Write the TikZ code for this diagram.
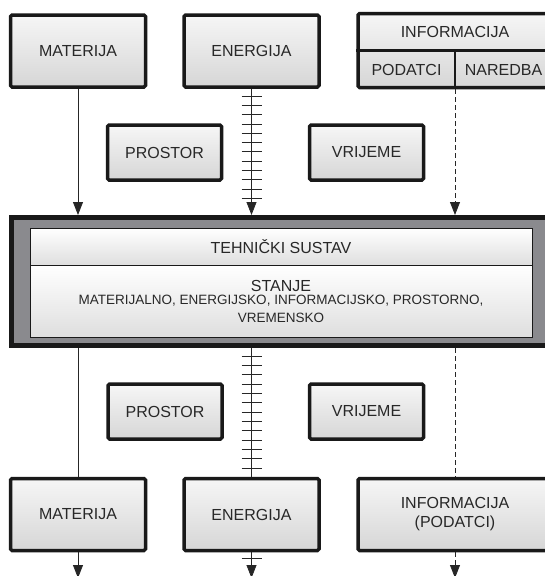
\documentclass[tikz,border=0pt]{standalone}
\usepackage{fontspec}
\setmainfont{Liberation Sans}
\usetikzlibrary{arrows.meta,positioning,decorations.markings}

\definecolor{blokgore}{RGB}{246,246,246}
\definecolor{blokdolje}{RGB}{214,214,214}
\definecolor{sustavsiva}{RGB}{138,138,142}
\definecolor{tekst}{RGB}{40,40,40}

\newcommand{\crtica}{\draw[-,solid,line width=0.8pt] (0,-10pt) -- (0,10pt);}

\begin{document}
\begin{tikzpicture}[x=1pt,y=-1pt,>={Triangle[width=10pt,length=13pt]},
  natpis/.style={text=tekst,font=\fontsize{16}{19}\selectfont,align=center},
  blok/.style={natpis,draw=black!90,line width=3.5pt,rounded corners=1.5pt,
    top color=blokgore,bottom color=blokdolje,minimum width=135pt,minimum height=72pt},
  malo/.style={blok,minimum width=114pt,minimum height=55pt},
  unutra/.style={natpis,draw=black!90,line width=1pt,top color=white,bottom color=blokdolje!80,
    minimum width=502pt,inner sep=0pt,outer sep=0pt},
  tok/.style={postaction={decorate,decoration={markings,mark=#1 with {\crtica}}}},
  veza/.style={line width=0.8pt,black!85},
  naredbe/.style={veza,dash pattern=on 5pt off 3pt}]
\useasboundingbox (0,0) rectangle (545,576);
\clip (0,0) rectangle (545,576);

% ulazi
\node[blok] (mat1) at (78,51) {MATERIJA};
\node[blok] (en1) at (251.5,51) {ENERGIJA};
\node[blok,minimum width=194pt,minimum height=74pt] (inf1) at (455,50.5) {};
\draw[line width=2.5pt,black!90] (inf1.west) -- (inf1.east);
\draw[line width=2.5pt,black!90] (inf1.center) -- (inf1.south);
\node[natpis] (infnaslov) at (455,31.5) {INFORMACIJA};
\node[natpis] (podatci) at (406.5,69.5) {PODATCI};
\node[natpis] (naredba) at (503.5,69.5) {NAREDBA};

\node[malo] (pro1) at (164.5,152.5) {PROSTOR};
\node[malo] (vri1) at (366.5,152.5) {VRIJEME};

% tehnicki sustav
\node[draw=black!90,line width=5pt,fill=sustavsiva,minimum width=541pt,minimum height=128pt] (sys) at (282,281.5) {};
\node[unutra,minimum height=37.5pt] (sysvrh) at (281,246.75) {TEHNIČKI SUSTAV};
\node[unutra,minimum height=71.5pt,below=0pt of sysvrh,font=\fontsize{13.5}{17.5}\selectfont] (sysdno)
  {{\fontsize{16}{19}\selectfont STANJE}\\[-4pt]
   MATERIJALNO, ENERGIJSKO, INFORMACIJSKO, PROSTORNO,\\ VREMENSKO};

% izlazi
\node[malo] (pro2) at (165,411.5) {PROSTOR};
\node[malo] (vri2) at (366.5,411.5) {VRIJEME};

\node[blok] (mat2) at (78,514.5) {MATERIJA};
\node[blok] (en2) at (251.5,514.5) {ENERGIJA};
\node[blok,minimum width=194pt] (inf2) at (455,514.5) {INFORMACIJA\\(PODATCI)};

\coordinate (izM) at (78,578);
\coordinate (izE) at (251.5,578);
\coordinate (izI) at (455,578);

% tokovi
\draw[veza,->] (mat1) -- (mat1 |- sys.north);
\draw[veza,->,tok={between positions 7.3pt and 110pt step 9.3pt}] (en1) -- (en1 |- sys.north);
\draw[naredbe,->] (inf1) -- (inf1 |- sys.north);

\draw[veza] (sys.south -| mat2) -- (mat2);
\draw[veza,tok={between positions 8pt and 121pt step 9.33pt}] (sys.south -| en2) -- (en2);
\draw[naredbe] (sys.south -| inf2) -- (inf2);

\draw[veza,->] (mat2) -- (izM);
\draw[veza,->,tok={at position 6pt}] (en2) -- (izE);
\draw[naredbe,->] (inf2) -- (izI);
\end{tikzpicture}
\end{document}
